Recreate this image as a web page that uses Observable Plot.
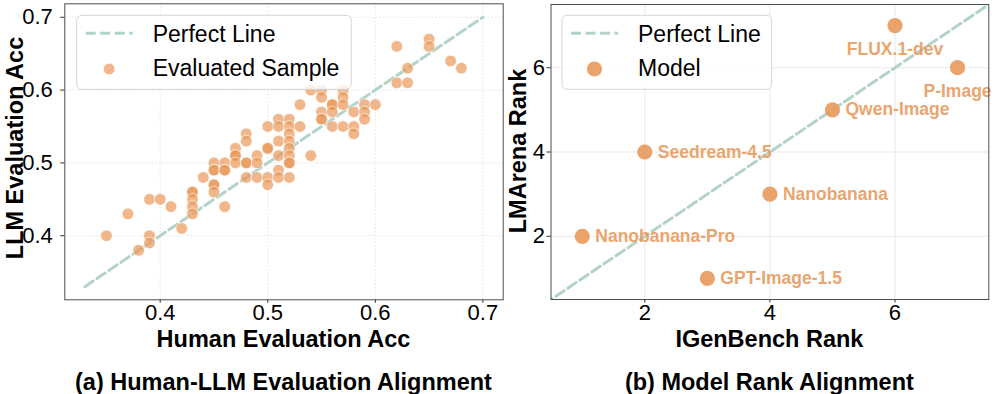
<!DOCTYPE html>
<html>
<head>
<meta charset="utf-8">
<script src="https://cdn.jsdelivr.net/npm/d3@7"></script>
<script src="https://cdn.jsdelivr.net/npm/@observablehq/plot@0.6"></script>
<style>
  html, body { margin: 0; padding: 0; background: #fff; }
  #wrap { position: relative; width: 996px; height: 394px; overflow: hidden; font-family: "Liberation Sans", Arial, sans-serif; }
  #overlay { left: 0; top: 0; pointer-events: none; }
</style>
</head>
<body>
<div id="wrap"></div>
<script>
// ---------- Data: panel (a) ----------
const humanAcc = [
  0.35,0.37,0.38,0.39,0.39,0.39,0.40,0.41,0.42,
  0.43,0.43,0.43,0.43,0.43,
  0.44,
  0.45,0.45,0.45,0.45,0.45,0.45,
  0.46,0.46,0.46,0.46,
  0.47,0.47,0.47,0.47,
  0.48,0.48,0.48,0.48,0.48,
  0.49,0.49,0.49,
  0.50,0.50,0.50,0.50,0.50,
  0.51,0.51,0.51,0.51,0.51,0.51,
  0.52,0.52,0.52,0.52,0.52,0.52,0.52,0.52,0.52,
  0.53,0.53,
  0.54,0.54,
  0.55,0.55,0.55,0.55,0.55,
  0.56,0.56,0.56,0.56,
  0.57,0.57,0.57,0.57,
  0.58,0.58,0.58,
  0.59,0.59,0.59,
  0.60,
  0.62,0.62,
  0.63,0.63,
  0.65,0.65,
  0.67,
  0.68
];
const llmAcc = [
  0.40,0.43,0.38,0.40,0.39,0.45,0.45,0.44,0.41,
  0.46,0.46,0.45,0.44,0.43,
  0.48,
  0.50,0.49,0.49,0.47,0.47,0.46,
  0.50,0.49,0.49,0.44,
  0.52,0.51,0.51,0.50,
  0.54,0.53,0.50,0.50,0.48,
  0.51,0.50,0.48,
  0.55,0.52,0.52,0.48,0.47,
  0.56,0.55,0.53,0.51,0.49,0.48,
  0.56,0.55,0.54,0.53,0.52,0.51,0.50,0.50,0.48,
  0.58,0.55,
  0.60,0.51,
  0.60,0.59,0.57,0.56,0.56,
  0.58,0.58,0.57,0.55,
  0.60,0.59,0.58,0.55,
  0.57,0.55,0.54,
  0.58,0.57,0.56,
  0.58,
  0.66,0.61,
  0.63,0.61,
  0.67,0.66,
  0.64,
  0.63
];
const perfectLineA = [0.33, 0.70];
const ticksA = [0.4, 0.5, 0.6, 0.7];

// ---------- Data: panel (b) ----------
const models = ["Nanobanana-Pro", "Seedream-4.5", "GPT-Image-1.5", "Nanobanana", "Qwen-Image", "FLUX.1-dev", "P-Image"];
const igenBenchRank = [1, 2, 3, 4, 5, 6, 7];
const lmArenaRank   = [2, 4, 1, 3, 5, 7, 6];
const perfectLineB = [0, 8];
const ticksB = [2, 4, 6];

// ---------- Text ----------
const xLabelA = "Human Evaluation Acc", yLabelA = "LLM Evaluation Acc", titleA = "(a) Human-LLM Evaluation Alignment";
const xLabelB = "IGenBench Rank", yLabelB = "LMArena Rank", titleB = "(b) Model Rank Alignment";
const legendA = ["Perfect Line", "Evaluated Sample"];
const legendB = ["Perfect Line", "Model"];

// ---------- Styles ----------
const FONT = "Liberation Sans, Arial, Helvetica, sans-serif";
const ORANGE = "#E8995A";
const TEAL = "#B2D3CA";
const TICK_FONT = 22;
const DOT_A = 5.8, DOT_B = 7.6;
const belowLabels = new Set(["FLUX.1-dev", "P-Image"]);

const samples = humanAcc.map((h, i) => ({human: h, llm: llmAcc[i]}));
const modelRows = models.map((m, i) => ({model: m, igen: igenBenchRank[i], arena: lmArenaRank[i]}));

const wrap = document.getElementById("wrap");

// Panel (a)
const plotA = Plot.plot({
  width: 506, height: 330,
  marginLeft: 64.3, marginRight: 3.3, marginTop: 3.3, marginBottom: 30.7,
  style: {fontFamily: FONT, fontSize: TICK_FONT + "px", color: "#000", background: "transparent", overflow: "visible"},
  x: {domain: [0.3113, 0.7189]},
  y: {domain: [0.312, 0.7185]},
  marks: [
    Plot.gridX(ticksA, {stroke: "#cfcfcf", strokeOpacity: 0.6, strokeDasharray: "1.5,2"}),
    Plot.gridY(ticksA, {stroke: "#cfcfcf", strokeOpacity: 0.6, strokeDasharray: "1.5,2"}),
    Plot.line(perfectLineA, {x: d => d, y: d => d, stroke: TEAL, strokeWidth: 3, strokeDasharray: "10,4.5"}),
    Plot.dot(samples, {x: "human", y: "llm", r: DOT_A, fill: ORANGE, fillOpacity: 0.7, stroke: "#fff", strokeOpacity: 0.6, strokeWidth: 1}),
    Plot.axisX(ticksA, {tickSize: 3.5, tickPadding: 1, fontSize: TICK_FONT, label: null, tickFormat: d3.format(".1f"), stroke: "#333"}),
    Plot.axisY(ticksA, {tickSize: 4, tickPadding: 8, fontSize: TICK_FONT, label: null, tickFormat: d3.format(".1f"), stroke: "#333"}),
    Plot.frame({stroke: "#4d4d4d", strokeWidth: 1})
  ]
});
plotA.style.left = "0px";
plotA.style.top = "0px";
plotA.style.position = "absolute";
wrap.appendChild(plotA);

// Panel (b)
const plotB = Plot.plot({
  width: 490, height: 330,
  marginLeft: 44.5, marginRight: 7.7, marginTop: 4, marginBottom: 31,
  style: {fontFamily: FONT, fontSize: TICK_FONT + "px", color: "#000", background: "transparent", overflow: "visible"},
  x: {domain: [0.5, 7.5]},
  y: {domain: [0.5, 7.5]},
  marks: [
    Plot.gridX(ticksB, {stroke: "#e3e3e3", strokeOpacity: 0.8}),
    Plot.gridY(ticksB, {stroke: "#e3e3e3", strokeOpacity: 0.8}),
    Plot.line(perfectLineB, {x: d => d, y: d => d, stroke: TEAL, strokeWidth: 3, strokeDasharray: "10,4.5", clip: true}),
    Plot.dot(modelRows, {x: "igen", y: "arena", r: DOT_B, fill: ORANGE, fillOpacity: 0.9}),
    Plot.text(modelRows.filter(d => !belowLabels.has(d.model)), {x: "igen", y: "arena", text: "model", textAnchor: "start", dx: 13, fill: ORANGE, fillOpacity: 0.9, fontWeight: "bold", fontSize: 17.5}),
    Plot.text(modelRows.filter(d => belowLabels.has(d.model)), {x: "igen", y: "arena", text: "model", textAnchor: "middle", dy: 24, fill: ORANGE, fillOpacity: 0.9, fontWeight: "bold", fontSize: 17.5}),
    Plot.axisX(ticksB, {tickSize: 3.5, tickPadding: 1, fontSize: TICK_FONT, label: null, stroke: "#333"}),
    Plot.axisY(ticksB, {tickSize: 4, tickPadding: 2, fontSize: TICK_FONT, label: null, stroke: "#333"}),
    Plot.frame({stroke: "#4d4d4d", strokeWidth: 1})
  ]
});
plotB.style.left = "506px";
plotB.style.top = "0px";
plotB.style.position = "absolute";
wrap.appendChild(plotB);

// Overlay: legends, axis labels, subplot titles
const NS = "http://www.w3.org/2000/svg";
const ov = document.createElementNS(NS, "svg");
ov.setAttribute("id", "overlay");
ov.setAttribute("width", 996);
ov.setAttribute("height", 394);
ov.style.position = "absolute";
ov.style.fontFamily = FONT;
wrap.appendChild(ov);

function el(tag, attrs, text) {
  const e = document.createElementNS(NS, tag);
  for (const k in attrs) e.setAttribute(k, attrs[k]);
  if (text != null) e.textContent = text;
  ov.appendChild(e);
  return e;
}

function legend(x0, w, labels, dotR, dotOpacity, dotStroke) {
  el("rect", {x: x0, y: 15.3, width: w, height: 74, rx: 5, fill: "#fff", "fill-opacity": 0.8, stroke: "#d6d6d6", "stroke-width": 1});
  el("line", {x1: x0 + 9, x2: x0 + 56, y1: 33.3, y2: 33.3, stroke: TEAL, "stroke-width": 3, "stroke-dasharray": "10,4.5"});
  el("circle", {cx: x0 + 32.5, cy: 69, r: dotR, fill: ORANGE, "fill-opacity": dotOpacity, stroke: dotStroke ? "#fff" : "none", "stroke-opacity": 0.6});
  el("text", {x: x0 + 76, y: 41.7, "font-size": 23, fill: "#000"}, labels[0]);
  el("text", {x: x0 + 76, y: 75.5, "font-size": 23, fill: "#000"}, labels[1]);
}
legend(76.7, 274.5, legendA, DOT_A, 0.7, true);
legend(562, 209.7, legendB, DOT_B, 0.9, false);

const bold = {"font-size": 23.5, "font-weight": "bold", "text-anchor": "middle", fill: "#000"};
el("text", {...bold, x: 283.5, y: 347}, xLabelA);
el("text", {...bold, x: 283.5, y: 390}, titleA);
el("text", {...bold, transform: "translate(22.7,148) rotate(-90)"}, yLabelA);
el("text", {...bold, x: 769.4, y: 347}, xLabelB);
el("text", {...bold, x: 769.4, y: 390}, titleB);
el("text", {...bold, transform: "translate(525.5,151) rotate(-90)"}, yLabelB);
</script>
</body>
</html>
